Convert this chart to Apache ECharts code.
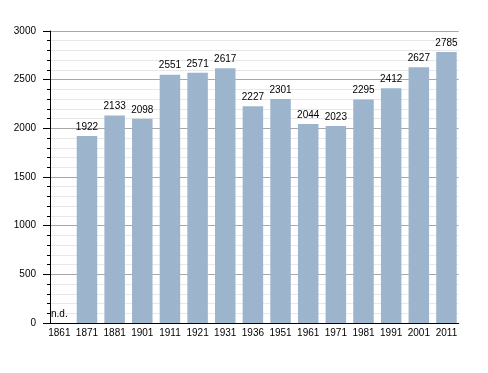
<!DOCTYPE html>
<html><head><meta charset="utf-8">
<script src="https://cdn.jsdelivr.net/npm/echarts@6/dist/echarts.min.js"></script>
<style>html,body{margin:0;padding:0;background:#fff}#c{width:488px;height:373px}</style>
</head><body><div id="c"></div>
<script>
var years = ['1861','1871','1881','1901','1911','1921','1931','1936','1951','1961','1971','1981','1991','2001','2011'];
var population = [null,1922,2133,2098,2551,2571,2617,2227,2301,2044,2023,2295,2412,2627,2785];
var yMin = 0, yMax = 3000, yStep = 500;

var chart = echarts.init(document.getElementById('c'), null, {renderer:'canvas'});
var data = population.map(function(v){
  if (v === null) return {value:0, label:{formatter:'n.d.'}};
  return v;
});
var font = 'Liberation Sans, Arial, sans-serif';
chart.setOption({
  animation:false,
  textStyle:{fontFamily:font},
  grid:[
    {left:45.5,right:27.7,top:31,bottom:50},
    {left:50,right:29.3,top:31,bottom:50}
  ],
  xAxis:[
    {type:'category',gridIndex:0,data:years,
      axisLine:{show:false},axisTick:{show:false},
      axisLabel:{color:'#000',fontSize:10,margin:5,interval:0,fontFamily:font}},
    {type:'value',gridIndex:1,min:0,max:1,
      axisLine:{show:true,onZero:false,lineStyle:{color:'#000',width:1}},
      axisTick:{show:false},axisLabel:{show:false},splitLine:{show:false}}
  ],
  yAxis:[
    {type:'value',gridIndex:0,min:yMin,max:yMax,interval:yStep,show:false,splitLine:{show:false}},
    {type:'value',gridIndex:1,min:yMin,max:yMax,interval:yStep,
      axisLine:{show:true,lineStyle:{color:'#000'}},
      axisTick:{show:true,length:7,lineStyle:{color:'#000'}},
      minorTick:{show:true,splitNumber:5,length:3,lineStyle:{color:'#000'}},
      splitLine:{show:true,lineStyle:{color:'#a8a8a8',width:1}},
      minorSplitLine:{show:true,lineStyle:{color:'#e8e8e8',width:1}},
      axisLabel:{color:'#000',fontSize:10,margin:14,fontFamily:font,formatter:function(v){return String(v);}}}
  ],
  series:[{type:'bar',xAxisIndex:0,yAxisIndex:0,data:data,barWidth:20.5,z:3,
    itemStyle:{color:'#9db4cd'},
    label:{show:true,position:'top',color:'#000',fontSize:10,distance:4,fontFamily:font}}]
});
</script></body></html>
